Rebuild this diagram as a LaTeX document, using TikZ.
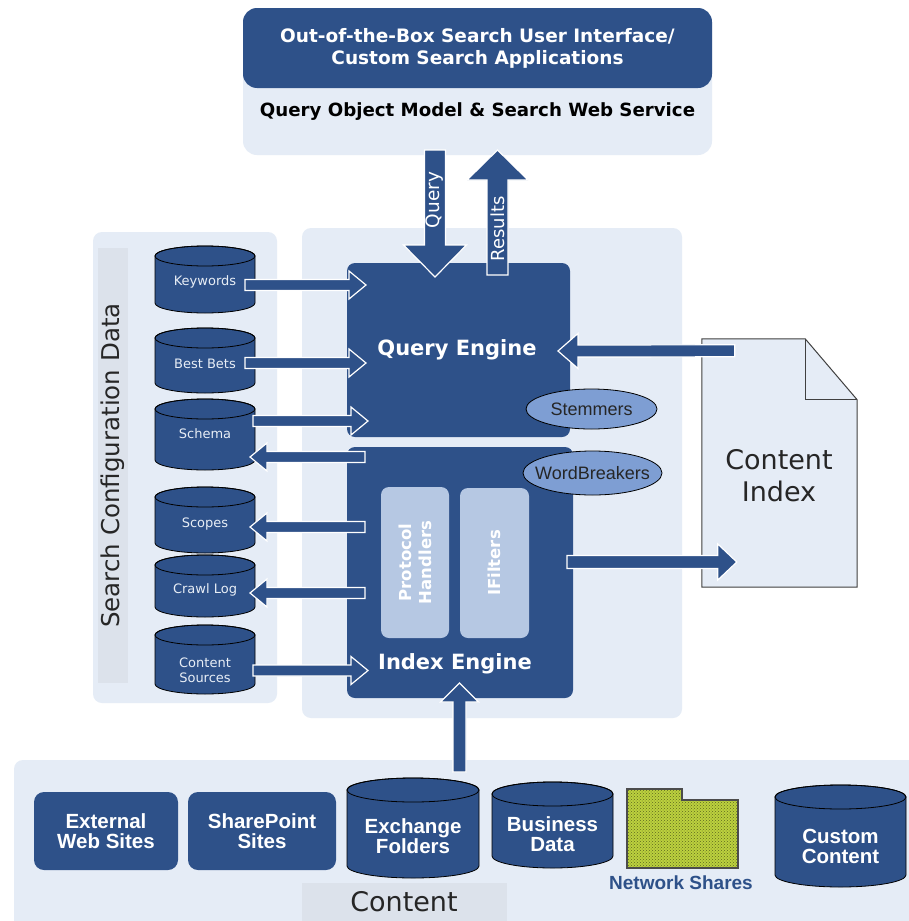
\documentclass[tikz,border=0pt]{standalone}
\usepackage{fontspec}
\setmainfont{DejaVu Sans}
\newfontfamily\arialfont{Liberation Sans}
\usetikzlibrary{calc,patterns,shapes.geometric}
\definecolor{dkblue}{HTML}{2E5189}
\definecolor{ltpanel}{HTML}{E5ECF6}
\definecolor{stripc}{HTML}{DCE2EB}
\definecolor{protobox}{HTML}{B6C8E3}
\definecolor{ellfill}{HTML}{7E9ED3}
\definecolor{folderg}{HTML}{BCD13E}
\definecolor{cyltxt}{HTML}{E8EEF6}
\newcommand\myfs[2]{\fontsize{#1}{#2}\selectfont}
% cylinder: name, cx, top, bottom, rx, ry, text style, text, text y
\newcommand\cylinder[9]{%
  \filldraw[cyl] ({#2-#5},{#3+#6}) -- ({#2-#5},{#4-#6})
    arc[start angle=180,end angle=0,x radius=#5,y radius=#6]
    -- ({#2+#5},{#3+#6})
    arc[start angle=0,end angle=-180,x radius=#5,y radius=#6] -- cycle;
  \draw[cyl, fill=none] ({#2},{#3+#6}) ellipse[x radius=#5, y radius=#6];
  \node[#7] (#1) at ({#2},{#9}) {#8};
}
% block arrow: style, from, to, half shaft, half head, head length
\newcommand\blockarrow[6]{%
  \coordinate (baA) at (#2);
  \coordinate (baB) at (#3);
  \coordinate (baH) at ($(baB)!#6pt!(baA)$);
  \filldraw[#1] ($(baA)!#4pt!90:(baB)$) -- ($(baH)!#4pt!90:(baB)$)
    -- ($(baH)!#5pt!90:(baB)$) -- (baB) -- ($(baH)!#5pt!-90:(baB)$)
    -- ($(baH)!#4pt!-90:(baB)$) -- ($(baA)!#4pt!-90:(baB)$) -- cycle;
}
\begin{document}
\begin{tikzpicture}[x=1pt,y=-1pt,
  panel/.style={fill=ltpanel, rounded corners=9pt, inner sep=0pt, outer sep=0pt},
  stripbox/.style={fill=stripc, inner sep=0pt, outer sep=0pt},
  engine/.style={fill=dkblue, rounded corners=8pt, inner sep=0pt, outer sep=0pt},
  engtext/.style={text=white, font=\bfseries\myfs{21}{25}},
  innerbox/.style={fill=protobox, rounded corners=8pt, inner sep=0pt, outer sep=0pt},
  innertext/.style={text=white, font=\bfseries\myfs{16.5}{20}, rotate=90, align=center},
  cyl/.style={fill=dkblue, draw=black, line width=0.8pt},
  cyltext/.style={text=cyltxt, font=\myfs{13}{15}, align=center, inner sep=0pt},
  botcyltext/.style={text=white, font=\arialfont\bfseries\myfs{20.5}{20}, align=center, inner sep=0pt},
  botbox/.style={fill=dkblue, rounded corners=10pt, inner sep=0pt, outer sep=0pt, text=white, font=\arialfont\bfseries\myfs{20.5}{20}, align=center},
  oval/.style={ellipse, fill=ellfill, draw=black, line width=0.8pt, inner sep=0pt},
  ovaltext/.style={font=\arialfont\myfs{18}{20}, text=black!85, inner sep=0pt},
  barrow/.style={fill=dkblue, draw=white, line width=1.2pt, line join=miter},
  bigtext/.style={font=\myfs{27}{32}, text=black!85, align=center},
]
\useasboundingbox (0,0) rectangle (908,921);
\fill[white] (0,0) rectangle (908,921);

% panels
\node[panel, minimum width=184pt, minimum height=471pt] (cfgpanel) at (185,467.5) {};
\node[stripbox, minimum width=30pt, minimum height=435pt] (cfgstrip) at (113,465.5) {};
\node[rotate=90, font=\myfs{24.5}{28}, text=black!85] (cfglabel) at (cfgstrip) {Search Configuration Data};
\node[panel, minimum width=380pt, minimum height=490pt] (midpanel) at (492,473) {};
\node[panel, rounded corners=14pt, minimum width=469pt, minimum height=147pt] (qom) at (477.5,81.5) {};
\node[engine, rounded corners=14pt, minimum width=469pt, minimum height=80pt, text=white, font=\bfseries\myfs{18.5}{22}, align=center] (ui) at (477.5,48) {Out-of-the-Box Search User Interface/\\Custom Search Applications};
\node[font=\bfseries\myfs{18.2}{22}, text=black] (qomlabel) at (477.5,112) {Query Object Model \& Search Web Service};
\node[panel, minimum width=906pt, minimum height=180pt] (contentpanel) at (467,850) {};
\node[stripbox, minimum width=205pt, minimum height=42pt] (contentstrip) at (404.5,904) {};
\node[bigtext] (contentlabel) at (404,902) {Content};

% engines
\node[engine, minimum width=223pt, minimum height=174pt] (qe) at (458.5,350) {};
\node[engtext] (qelabel) at (457,350) {Query Engine};
\node[engine, minimum width=226pt, minimum height=251pt] (ie) at (460,572.5) {};
\node[engtext] (ielabel) at (455,664) {Index Engine};
\node[innerbox, minimum width=68pt, minimum height=151pt] (ph) at (415,562.5) {};
\node[innertext] (phlabel) at (ph) {Protocol\\Handlers};
\node[innerbox, minimum width=69pt, minimum height=150pt] (ifl) at (494.5,563) {};
\node[innertext] (ifllabel) at (ifl) {IFilters};
\node[oval, minimum width=131pt, minimum height=40pt] (stem) at (591.5,409) {};
\node[ovaltext] (stemlabel) at (stem) {Stemmers};
\node[oval, minimum width=139pt, minimum height=44pt] (wb) at (592.5,473) {};
\node[ovaltext] (wblabel) at (wb) {WordBreakers};

% content index
\node[inner sep=0pt, minimum width=155pt, minimum height=248pt] (ci) at (779.5,463) {};
\filldraw[fill=ltpanel, draw=black!75, line width=1pt] (ci.north west) -- ($(ci.north east)+(-52,0)$) -- ($(ci.north east)+(0,61)$) -- (ci.south east) -- (ci.south west) -- cycle;
\draw[black!75, line width=1pt] ($(ci.north east)+(-52,0)$) -- ($(ci.north east)+(-52,61)$) -- ($(ci.north east)+(0,61)$);
\node[bigtext] (cilabel) at (779,476) {Content\\Index};

% configuration cylinders
\cylinder{kw}{205}{246}{313}{50}{10}{cyltext}{Keywords}{282}
\cylinder{bb}{205}{328}{393}{50}{10}{cyltext}{Best Bets}{364}
\cylinder{sc}{205}{399}{470}{50}{10}{cyltext}{Schema}{434}
\cylinder{scp}{205}{487}{553}{50}{10}{cyltext}{Scopes}{524}
\cylinder{cl}{205}{555}{617}{50}{10}{cyltext}{Crawl Log}{590}
\cylinder{cs}{205}{625}{694}{50}{10}{cyltext}{Content\\Sources}{670.5}

% content sources at bottom
\node[botbox, minimum width=144pt, minimum height=78pt] (ext) at (106,831) {External\\Web Sites};
\node[botbox, minimum width=148pt, minimum height=78pt] (shp) at (262,831) {SharePoint\\Sites};
\cylinder{exf}{413}{778}{878}{66}{12}{botcyltext}{Exchange\\Folders}{836}
\cylinder{bd}{552.5}{782}{868}{60.5}{12}{botcyltext}{Business\\Data}{834}
\cylinder{cc}{840.5}{785}{887}{65.5}{12}{botcyltext}{Custom\\Content}{846}
\fill[folderg] (627,789) -- (682,789) -- (682,800) -- (738,800) -- (738,868) -- (627,868) -- cycle;
\fill[pattern=crosshatch dots, pattern color=black!50!folderg] (627,789) -- (682,789) -- (682,800) -- (738,800) -- (738,868) -- (627,868) -- cycle;
\draw[black!70, line width=1.3pt] (627,789) -- (682,789) -- (682,800) -- (738,800) -- (738,868) -- (627,868) -- cycle;
\node[text=dkblue, font=\arialfont\bfseries\myfs{19}{20}] (ns) at (681,883) {Network Shares};

% arrows
\blockarrow{barrow}{$(qom.south)+(-42.5,-5)$}{$(qe.north)+(-23.5,14)$}{10.5}{31.5}{32}
\blockarrow{barrow}{$(qe.north)+(39,12)$}{$(qom.south)+(20,-5)$}{10.5}{30.5}{30}
\node[rotate=90, text=white, font=\myfs{18.5}{20}] (qlabel) at (435,200) {Query};
\node[rotate=90, text=white, font=\myfs{18}{20}] (rlabel) at (497.5,229) {Results};

\blockarrow{barrow}{$(kw)+(40,3)$}{$(qe.west |- kw)+(19,3)$}{5.5}{14}{17}
\blockarrow{barrow}{$(bb)+(40,-1)$}{$(qe.west |- bb)+(19,-1)$}{5.5}{14}{17}
\blockarrow{barrow}{$(sc)+(48,-13)$}{$(qe.west |- sc)+(21,-13)$}{5.5}{14}{17}
\blockarrow{barrow}{$(ie.west |- sc)+(18,23)$}{$(sc)+(45,23)$}{5.5}{14}{17}
\blockarrow{barrow}{$(ie.west |- scp)+(18,3)$}{$(scp)+(45,3)$}{5.5}{14}{17}
\blockarrow{barrow}{$(ie.west |- cl)+(18,3)$}{$(cl)+(45,3)$}{5.5}{14}{17}
\blockarrow{barrow}{$(cs)+(48,0)$}{$(ie.west |- cs)+(21,0)$}{5.5}{14}{17}

\blockarrow{barrow}{$(ci.north west)+(33,12)$}{$(qe.east)+(-12,1)$}{6}{17.5}{20}
\blockarrow{barrow}{$(ie.east)+(-6,-10.5)$}{$(ci.west)+(35,99)$}{6.5}{18}{19}
\blockarrow{barrow}{$(ie.south)+(-0.5,74)$}{$(ie.south)+(-0.5,-15)$}{6.5}{19}{19}
\end{tikzpicture}
\end{document}
